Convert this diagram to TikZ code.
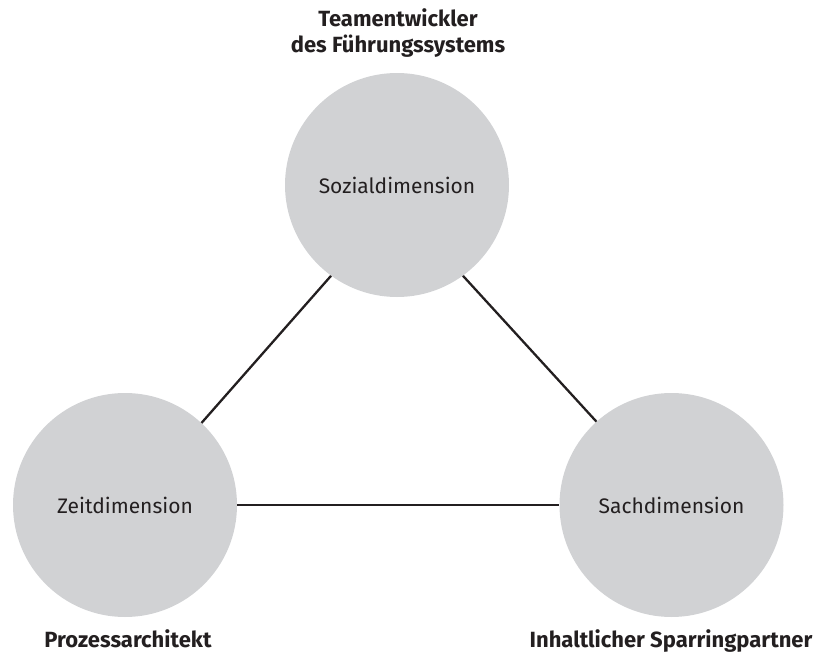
\documentclass[tikz,border=0pt]{standalone}
\usepackage{fontspec}
\setmainfont{Fira Sans}
\definecolor{discgray}{HTML}{D1D2D4}
\definecolor{inkgray}{HTML}{231F20}
\begin{document}
\begin{tikzpicture}[x=1pt,y=-1pt,
  dimension/.style={circle, fill=discgray, minimum size=224pt, inner sep=0pt,
    text=inkgray, font=\fontsize{21}{25}\selectfont},
  role/.style={text=inkgray, font=\fontsize{22}{26}\selectfont\bfseries, align=center, inner sep=0pt},
  link/.style={draw=inkgray, line width=2.3pt}]
  \useasboundingbox (0,0) rectangle (820,653);

  % the three dimensions
  \node[dimension] (sozial) at (397,185) {Sozialdimension};
  \node[dimension] (zeit)   at (125,505) {Zeitdimension};
  \node[dimension] (sach)   at (671.5,505) {Sachdimension};

  % roles attached to each dimension
  \node[role, anchor=base] (team) at (398,52) {Teamentwickler\\des Führungssystems};
  \node[role, anchor=base] (prozess) at (128,647) {Prozessarchitekt};
  \node[role, anchor=base] (inhalt) at (671,647) {Inhaltlicher Sparringpartner};

  % connecting triangle
  \draw[link] (sozial.234) -- (zeit.47.5);
  \draw[link] (sozial.306.7) -- (sach.132.3);
  \draw[link] (zeit.east) -- (sach.west);
\end{tikzpicture}
\end{document}
